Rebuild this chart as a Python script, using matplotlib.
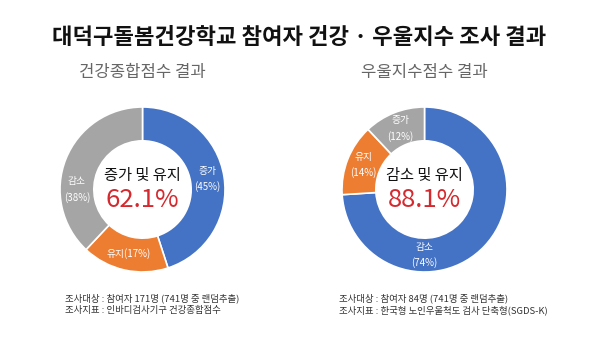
import numpy as np
import matplotlib.pyplot as plt

plt.rcParams['font.family'] = ['Noto Sans CJK KR', 'DejaVu Sans']

title = '대덕구돌봄건강학교 참여자 건강 · 우울지수 조사 결과'

# left donut: 건강종합점수
left_title = '건강종합점수 결과'
left_labels = ['증가', '유지', '감소']
left_values = [45, 17, 38]
left_center = ['증가 및 유지', '62.1%']
left_notes = ['조사대상 : 참여자 171명 (741명 중 랜덤추출)',
              '조사지표 : 인바디검사기구 건강종합점수']

# right donut: 우울지수점수
right_title = '우울지수점수 결과'
right_labels = ['감소', '유지', '증가']
right_values = [74, 14, 12]
right_center = ['감소 및 유지', '88.1%']
right_notes = ['조사대상 : 참여자 84명 (741명 중 랜덤추출)',
               '조사지표 : 한국형 노인우울척도 검사 단축형(SGDS-K)']

W, H = 607, 339
fig = plt.figure(figsize=(W / 100, H / 100), dpi=100)
fig.patch.set_facecolor('white')

BLUE, ORANGE, GRAY = '#4472C4', '#ED7D31', '#A5A5A5'
RED = '#D42A2F'


def donut(cx, cy, values, labels, colors, center, label_angles, single_line):
    R = 82.5
    ax = fig.add_axes([(cx - R) / W, (H - cy - R) / H, 2 * R / W, 2 * R / H])
    ax.pie(values, colors=colors, startangle=90, counterclock=False, radius=1,
           wedgeprops=dict(width=0.41, edgecolor='white', linewidth=1.2))
    ax.set_xlim(-1, 1)
    ax.set_ylim(-1, 1)
    ax.set_aspect('equal')
    ax.axis('off')
    rmid = 0.795
    for lab, v, ang, one in zip(labels, values, label_angles, single_line):
        a = np.deg2rad(90 - ang)
        x, y = rmid * np.cos(a), rmid * np.sin(a)
        if one:
            txt = f'{lab}({v}%)'
        else:
            txt = f'{lab}\n({v}%)'
        ax.text(x, y, txt, ha='center', va='center', color='white',
                fontsize=7, linespacing=1.6)
    ax.text(0, 0.175, center[0], ha='center', va='center', fontsize=11, color='#111111')
    ax.text(0, -0.13, center[1], ha='center', va='center', fontsize=18.5, color=RED)


# angles measured clockwise from top, where each label sits
donut(142.5, 189.5, left_values, left_labels, [BLUE, ORANGE, GRAY],
      left_center, [81, 192, 270], [False, True, False])
donut(424.5, 189.5, right_values, right_labels, [BLUE, ORANGE, GRAY],
      right_center, [180, 291.6, 338.4], [False, False, False])

fig.text(0.492, 1 - 37 / H, title, ha='center', va='center', fontsize=16,
         fontweight='bold', color='#111111')
fig.text(142 / W, 1 - 72 / H, left_title, ha='center', va='center', fontsize=12,
         color='#666666')
fig.text(424 / W, 1 - 72 / H, right_title, ha='center', va='center', fontsize=12,
         color='#666666')

for x0, notes in [(65, left_notes), (339, right_notes)]:
    for i, line in enumerate(notes):
        fig.text(x0 / W, 1 - (298 + 12.5 * i) / H, line, ha='left', va='center',
                 fontsize=6.8, color='#333333')

fig.savefig('out.png', dpi=100)
